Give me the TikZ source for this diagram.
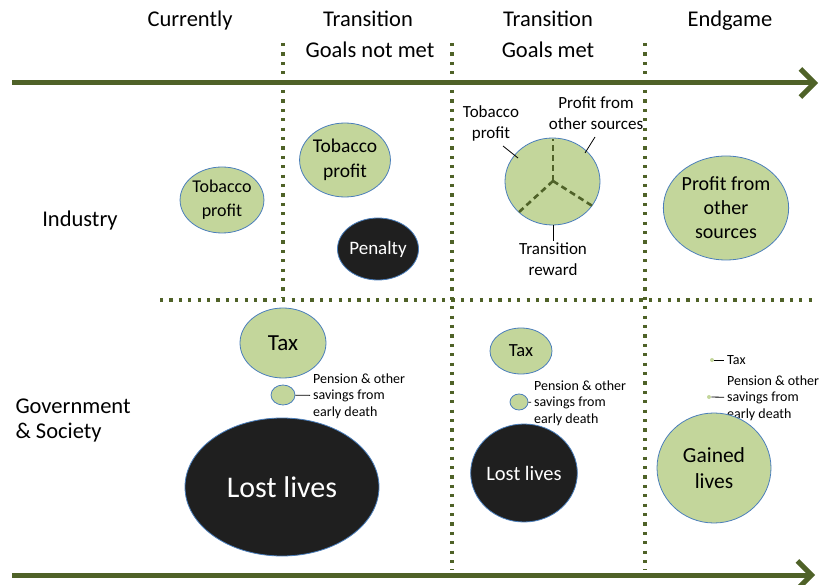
\documentclass[tikz,border=0pt]{standalone}
\usepackage{fontspec}
\setmainfont{Carlito}
\usetikzlibrary{shapes.geometric,arrows.meta,positioning}
\definecolor{oliveArrow}{HTML}{4F6228}
\definecolor{blobFill}{HTML}{C3D69B}
\definecolor{blobLine}{HTML}{4A7EBB}
\tikzstyle{blob}=[draw=blobLine,fill=blobFill,ellipse,inner sep=0pt,align=center,line width=0.8pt,font=\fontsize{18}{24}\selectfont]
\tikzstyle{darkBlob}=[blob,fill=black!88,text=white]
\tikzstyle{timeLine}=[line width=5pt,oliveArrow,-{Straight Barb[length=14pt,width=28pt]}]
\tikzstyle{divider}=[oliveArrow,line width=3.2pt,dash pattern=on 3.2pt off 6.2pt]
\tikzstyle{pieCut}=[oliveArrow,line width=2.6pt,dash pattern=on 6pt off 4pt]
\tikzstyle{pointer}=[line width=0.8pt,shorten >=3pt]
\tikzstyle{heading}=[anchor=base,font=\fontsize{22.5}{27}\selectfont]
\tikzstyle{note}=[align=left,anchor=west,font=\fontsize{14}{16.5}\selectfont,inner sep=0pt]
\tikzstyle{pieNote}=[align=center,font=\fontsize{17}{21}\selectfont,inner sep=0pt]

\begin{document}
\begin{tikzpicture}[x=1pt,y=-1pt]
	\useasboundingbox (0,0) rectangle (822,585);

	% time axes and grid
	\coordinate (topL) at (12,83);
	\coordinate (topR) at (818,83);
	\coordinate (botL) at (12,575);
	\coordinate (botR) at (815,575);
	\draw[divider] (283,43) -- (283,298);
	\draw[divider] (452,43) -- (452,570);
	\draw[divider] (645,43) -- (645,570);
	\draw[divider] (160,300) -- (816,300);
	\draw[timeLine] (topL) -- (topR);
	\draw[timeLine] (botL) -- (botR);

	\node[heading] (hCur) at (190,27) {Currently};
	\node[heading] (hTr1) at (368,27) {Transition};
	\node[heading] (hNot) at (370,58) {Goals not met};
	\node[heading] (hTr2) at (548,27) {Transition};
	\node[heading] (hMet) at (548,58) {Goals met};
	\node[heading] (hEnd) at (730,27) {Endgame};

	\node[heading] (rInd) at (80,227) {Industry};
	\node[heading,align=left,anchor=base west,font=\fontsize{22.5}{25}\selectfont] (rGov) at (12,438) {Government\\\& Society};

	% industry
	\node[blob,minimum width=74pt,minimum height=66pt] (tobCur) at (222,200) {Tobacco\\profit};
	\node[blob,minimum width=84pt,minimum height=74pt,font=\fontsize{19.5}{25}\selectfont] (tobNot) at (345,160) {Tobacco\\profit};
	\node[darkBlob,minimum width=74pt,minimum height=62pt,font=\fontsize{19}{23}\selectfont] (penalty) at (378,249) {Penalty};
	\node[blob,minimum width=95pt,minimum height=87pt] (pie) at (552.5,181.5) {};
	\coordinate (pieMid) at (553,181);
	\draw[pieCut] (pieMid) -- (553,139);
	\draw[pieCut] (pieMid) -- (518,213);
	\draw[pieCut] (pieMid) -- (594,207);
	\node[pieNote] (pieTob) at (491,123) {Tobacco\\profit};
	\node[pieNote] (pieOth) at (596,113) {Profit from\\other sources};
	\node[pieNote] (pieRew) at (553,259) {Transition\\reward};
	\coordinate (tobA) at (503,146);
	\coordinate (tobB) at (518,158);
	\coordinate (othA) at (595,137);
	\coordinate (othB) at (585,153);
	\coordinate (rewA) at (553,225);
	\coordinate (rewB) at (553,241);
	\draw[pointer,shorten >=0pt] (tobA) -- (tobB);
	\draw[pointer,shorten >=0pt] (othA) -- (othB);
	\draw[pointer,shorten >=0pt] (rewA) -- (rewB);
	\node[blob,minimum width=120pt,minimum height=104pt,font=\fontsize{20}{24}\selectfont] (othEnd) at (726,208) {Profit from\\other\\sources};

	% government and society
	\node[blob,minimum width=86pt,minimum height=70pt,font=\fontsize{23}{27}\selectfont] (taxCur) at (283,343) {Tax};
	\node[blob,minimum width=24pt,minimum height=20pt] (penCur) at (283,395) {};
	\node[note] (penCurLbl) at (313,396) {Pension \& other\\savings from\\early death};
	\draw[pointer] (penCur) -- (penCurLbl);
	\node[darkBlob,minimum width=194pt,minimum height=138pt,font=\fontsize{30}{34}\selectfont] (livesCur) at (282,487) {Lost lives};

	\node[blob,minimum width=62pt,minimum height=46pt,font=\fontsize{18.5}{22}\selectfont] (taxMet) at (521,351) {Tax};
	\node[blob,minimum width=18pt,minimum height=16pt] (penMet) at (519,402) {};
	\node[note] (penMetLbl) at (534,403) {Pension \& other\\savings from\\early death};
	\draw[pointer] (penMet) -- (penMetLbl);
	\node[darkBlob,minimum width=106pt,minimum height=98pt,font=\fontsize{20.5}{24}\selectfont] (livesMet) at (524,473) {Lost lives};

	\node[blob,minimum size=4pt,draw=none] (taxEnd) at (712,360) {};
	\node[note] (taxEndLbl) at (727,360) {Tax};
	\draw[pointer] (taxEnd) -- (taxEndLbl);
	\node[blob,minimum size=4pt,draw=none] (penEnd) at (709,397) {};
	\node[note] (penEndLbl) at (727,398) {Pension \& other\\savings from\\early death};
	\draw[pointer] (penEnd) -- (penEndLbl);
	\node[blob,minimum width=114pt,minimum height=110pt,font=\fontsize{21.5}{26}\selectfont] (livesEnd) at (714,468) {Gained\\lives};
\end{tikzpicture}
\end{document}
